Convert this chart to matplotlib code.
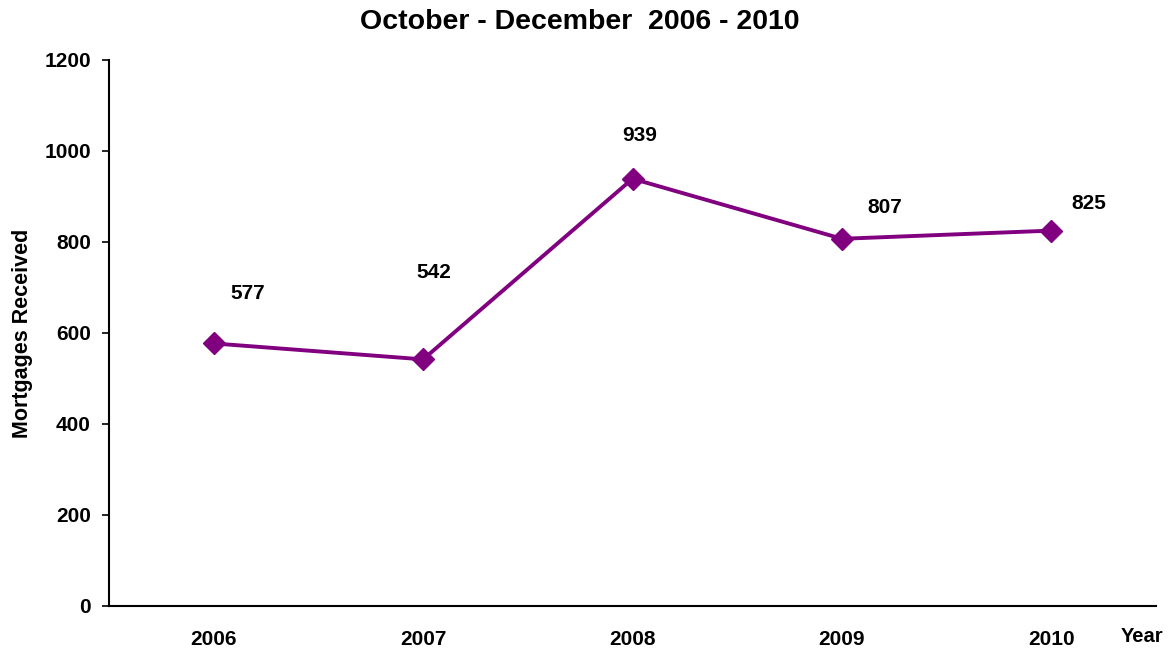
import numpy as np
import matplotlib.pyplot as plt

plt.rcParams['font.family'] = ['Liberation Sans', 'DejaVu Sans']
plt.rcParams['font.weight'] = 'bold'

# Datos
years = ['2006', '2007', '2008', '2009', '2010']
mortgages = [577, 542, 939, 807, 825]

# Desplazamiento de etiquetas (en píxeles)
label_dx = [34, 11, 7, 43, 37]
label_dy = [50, 87, 43, 31, 27]

fig = plt.figure(figsize=(11.74, 6.52), dpi=100)
ax = fig.add_axes([0.0928, 0.0706, 0.892, 0.8374])

x = np.arange(len(years))
ax.plot(x, mortgages, color='#800080', linewidth=2.8, marker='D', markersize=11)

for xi, v, dx, dy in zip(x, mortgages, label_dx, label_dy):
    ax.annotate(str(v), (xi, v), xytext=(dx * 0.72, dy * 0.72), textcoords='offset points',
                ha='center', va='center', fontsize=15, fontweight='bold')

ax.set_xlim(-0.5, 4.5)
ax.set_ylim(0, 1200)
ax.set_yticks(range(0, 1201, 200))
ax.set_xticks(x)
ax.set_xticklabels(years)
ax.tick_params(axis='x', length=0, pad=17, labelsize=15)
ax.tick_params(axis='y', length=5, width=1.2, labelsize=15, pad=8)
for lbl in ax.get_xticklabels() + ax.get_yticklabels():
    lbl.set_fontweight('bold')

ax.spines['top'].set_visible(False)
ax.spines['right'].set_visible(False)
ax.spines['left'].set_linewidth(1.5)
ax.spines['bottom'].set_linewidth(1.5)

fig.text(580 / 1174, 1 - 22 / 652, "October - December  2006 - 2010", fontsize=20.5,
         fontweight='bold', ha='center', va='center')
ax.set_ylabel("Mortgages Received", fontsize=15.5, fontweight='bold', labelpad=8)
fig.text(1142 / 1174, 1 - 636 / 652, "Year", fontsize=14.5, fontweight='bold', ha='center', va='center')

fig.savefig('out.png', dpi=100)
